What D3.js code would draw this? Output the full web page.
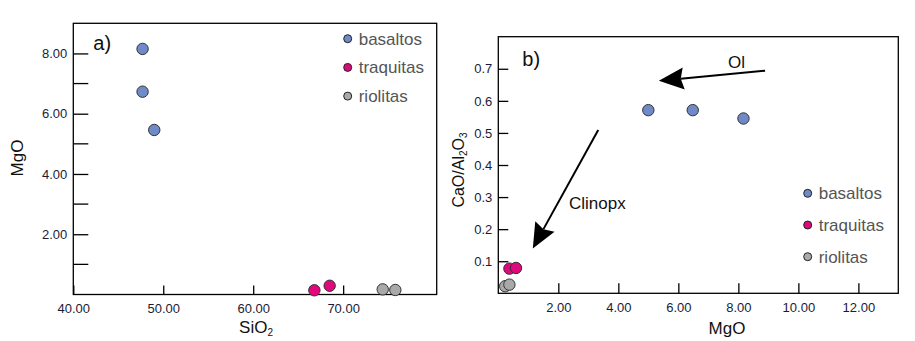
<!DOCTYPE html>
<html>
<head>
<meta charset="utf-8">
<script src="https://cdn.jsdelivr.net/npm/d3@7"></script>
<style>
  body { margin: 0; background: #fff; }
  svg { font-family: "Liberation Sans", Arial, sans-serif; }
</style>
</head>
<body>
<div id="content"></div>
<script>
// rock groups and their colours
var groups = ['basaltos', 'traquitas', 'riolitas'];
var groupColors = ['#6f8ac6', '#e0087c', '#a9a9a9'];

// panel a: SiO2 vs MgO
var sio2Basaltos = [47.7, 47.7, 49.0];
var mgoBasaltosA = [8.15, 6.73, 5.46];
var sio2Traquitas = [66.8, 68.5];
var mgoTraquitasA = [0.14, 0.29];
var sio2Riolitas = [74.4, 75.8];
var mgoRiolitasA = [0.17, 0.15];

// panel b: MgO vs CaO/Al2O3
var mgoBasaltosB = [5.0, 6.48, 8.17];
var caoBasaltos = [0.571, 0.571, 0.545];
var mgoTraquitasB = [0.37, 0.59];
var caoTraquitas = [0.077, 0.079];
var mgoRiolitasB = [0.23, 0.37];
var caoRiolitas = [0.022, 0.027];

// tick values
var aXTicks = [40, 50, 60, 70];
var aYMajor = [2, 4, 6, 8];
var aYMinor = [1, 3, 5, 7];
var bXTicks = [2, 4, 6, 8, 10, 12];
var bYTicks = [0.1, 0.2, 0.3, 0.4, 0.5, 0.6, 0.7];

// arrows in panel b (data units): [x1, y1, x2 (tip), y2 (tip)]
var arrowOl = [8.89, 0.694, 5.35, 0.6625];
var arrowClinopx = [3.33, 0.509, 1.15, 0.140];

var width = 915, height = 341;
var svg = d3.select('#content').append('svg')
  .attr('width', width).attr('height', height);

var tickColor = '#1b1b36';

function pts(xs, ys, gi) {
  return xs.map(function(x, i) { return {x: x, y: ys[i], g: gi}; });
}

var dataA = pts(sio2Basaltos, mgoBasaltosA, 0)
  .concat(pts(sio2Traquitas, mgoTraquitasA, 1))
  .concat(pts(sio2Riolitas, mgoRiolitasA, 2));
var dataB = pts(mgoBasaltosB, caoBasaltos, 0)
  .concat(pts(mgoTraquitasB, caoTraquitas, 1))
  .concat(pts(mgoRiolitasB, caoRiolitas, 2));

// ---------- panel a ----------
var xa = d3.scaleLinear().domain([40, 80.4]).range([73.3, 436.7]);
var ya = d3.scaleLinear().domain([0, 9]).range([294.5, 23.3]);
var ga = svg.append('g');

ga.append('rect')
  .attr('x', xa(40)).attr('y', ya(9))
  .attr('width', xa(80.4) - xa(40)).attr('height', ya(0) - ya(9))
  .attr('fill', 'none').attr('stroke', '#000').attr('stroke-width', 1.3);

// x axis, ticks pointing inside
ga.append('g')
  .attr('transform', 'translate(0,' + ya(0) + ')')
  .call(d3.axisBottom(xa).tickValues(aXTicks).tickSizeInner(-9).tickSizeOuter(0)
    .tickFormat(d3.format('.2f')))
  .call(function(g) {
    g.select('.domain').remove();
    g.selectAll('line').attr('stroke', '#000').attr('stroke-width', 1.3);
    g.selectAll('text').attr('y', 9).attr('dy', '0.71em')
      .attr('font-size', 13).attr('fill', tickColor);
  });

// y axis major + minor ticks inside
ga.append('g')
  .attr('transform', 'translate(' + xa(40) + ',0)')
  .call(d3.axisLeft(ya).tickValues(aYMajor).tickSizeInner(-15).tickSizeOuter(0)
    .tickFormat(d3.format('.2f')))
  .call(function(g) {
    g.select('.domain').remove();
    g.selectAll('line').attr('stroke', '#000').attr('stroke-width', 1.3);
    g.selectAll('text').attr('x', -6).attr('font-size', 13).attr('fill', tickColor);
  });
ga.append('g').selectAll('line').data(aYMinor).enter().append('line')
  .attr('x1', xa(40)).attr('x2', xa(40) + 15)
  .attr('y1', function(d) { return ya(d); }).attr('y2', function(d) { return ya(d); })
  .attr('stroke', '#000').attr('stroke-width', 1.3);

ga.append('text').attr('x', xa(40) + 20).attr('y', 50)
  .attr('font-size', 20).attr('fill', '#111').text('a)');

var sio2Label = ga.append('text').attr('x', 256).attr('y', 333)
  .attr('text-anchor', 'middle').attr('font-size', 17).attr('fill', '#111');
sio2Label.append('tspan').text('SiO');
sio2Label.append('tspan').attr('font-size', 10).attr('dy', 3).text('2');

ga.append('text').attr('transform', 'translate(23,158) rotate(-90)')
  .attr('text-anchor', 'middle').attr('font-size', 17).attr('fill', '#111').text('MgO');

ga.selectAll('circle.pt').data(dataA).enter().append('circle')
  .attr('class', 'pt')
  .attr('cx', function(d) { return xa(d.x); })
  .attr('cy', function(d) { return ya(d.y); })
  .attr('r', 5.7)
  .attr('fill', function(d) { return groupColors[d.g]; })
  .attr('stroke', '#333').attr('stroke-width', 1);

function legend(g, x, y0, step) {
  var items = g.selectAll('g.leg').data(groups).enter().append('g')
    .attr('transform', function(d, i) { return 'translate(' + x + ',' + (y0 + i * step) + ')'; });
  items.append('circle').attr('r', 4)
    .attr('fill', function(d, i) { return groupColors[i]; })
    .attr('stroke', '#222').attr('stroke-width', 1);
  items.append('text').attr('x', 11).attr('dy', '0.35em')
    .attr('font-size', 17).attr('fill', '#555').text(function(d) { return d; });
}
legend(ga, 347.7, 38.7, 28.7);

// ---------- panel b ----------
var xb = d3.scaleLinear().domain([0, 13.33]).range([498.3, 898.3]);
var yb = d3.scaleLinear().domain([0, 0.8]).range([293.3, 36.7]);
var gb = svg.append('g');

gb.append('rect')
  .attr('x', xb(0)).attr('y', yb(0.8))
  .attr('width', xb(13.33) - xb(0)).attr('height', yb(0) - yb(0.8))
  .attr('fill', 'none').attr('stroke', '#000').attr('stroke-width', 1.3);

gb.append('g')
  .attr('transform', 'translate(0,' + yb(0) + ')')
  .call(d3.axisBottom(xb).tickValues(bXTicks).tickSizeInner(-10).tickSizeOuter(0)
    .tickFormat(d3.format('.2f')))
  .call(function(g) {
    g.select('.domain').remove();
    g.selectAll('line').attr('stroke', '#000').attr('stroke-width', 1.3);
    g.selectAll('text').attr('y', 9).attr('dy', '0.71em')
      .attr('font-size', 13).attr('fill', tickColor);
  });

gb.append('g')
  .attr('transform', 'translate(' + xb(0) + ',0)')
  .call(d3.axisLeft(yb).tickValues(bYTicks).tickSizeInner(-10).tickSizeOuter(0)
    .tickFormat(d3.format('.1f')))
  .call(function(g) {
    g.select('.domain').remove();
    g.selectAll('line').attr('stroke', '#000').attr('stroke-width', 1.3);
    g.selectAll('text').attr('x', -6).attr('font-size', 13).attr('fill', tickColor);
  });

gb.append('text').attr('x', xb(0) + 24).attr('y', 66)
  .attr('font-size', 20).attr('fill', '#111').text('b)');

gb.append('text').attr('x', 727).attr('y', 334)
  .attr('text-anchor', 'middle').attr('font-size', 17).attr('fill', '#111').text('MgO');

var yTitleB = gb.append('text').attr('transform', 'translate(464,170) rotate(-90)')
  .attr('text-anchor', 'middle').attr('font-size', 16).attr('fill', '#111');
yTitleB.append('tspan').text('CaO/Al');
yTitleB.append('tspan').attr('font-size', 10).attr('dy', 3).text('2');
yTitleB.append('tspan').attr('dy', -3).text('O');
yTitleB.append('tspan').attr('font-size', 10).attr('dy', 3).text('3');

// arrows
function arrow(g, a) {
  var x1 = xb(a[0]), y1 = yb(a[1]), x2 = xb(a[2]), y2 = yb(a[3]);
  var dx = x2 - x1, dy = y2 - y1, len = Math.sqrt(dx * dx + dy * dy);
  var ux = dx / len, uy = dy / len, headLen = 25, headW = 11;
  var bx = x2 - ux * headLen, by = y2 - uy * headLen;
  var nx = bx + ux * 3, ny = by + uy * 3;
  g.append('line').attr('x1', x1).attr('y1', y1).attr('x2', nx).attr('y2', ny)
    .attr('stroke', '#000').attr('stroke-width', 2);
  g.append('path')
    .attr('d', 'M' + x2 + ',' + y2 +
      'L' + (bx - uy * headW) + ',' + (by + ux * headW) +
      'L' + nx + ',' + ny +
      'L' + (bx + uy * headW) + ',' + (by - ux * headW) + 'Z')
    .attr('fill', '#000');
}
arrow(gb, arrowOl);
arrow(gb, arrowClinopx);

gb.append('text').attr('x', 728).attr('y', 68)
  .attr('font-size', 17).attr('fill', '#111').text('Ol');
gb.append('text').attr('x', 569).attr('y', 209)
  .attr('font-size', 17).attr('fill', '#111').text('Clinopx');

gb.selectAll('circle.pt').data(dataB).enter().append('circle')
  .attr('class', 'pt')
  .attr('cx', function(d) { return xb(d.x); })
  .attr('cy', function(d) { return yb(d.y); })
  .attr('r', 5.7)
  .attr('fill', function(d) { return groupColors[d.g]; })
  .attr('stroke', '#333').attr('stroke-width', 1);

legend(gb, 807.7, 193.3, 31.7);
</script>
</body>
</html>
